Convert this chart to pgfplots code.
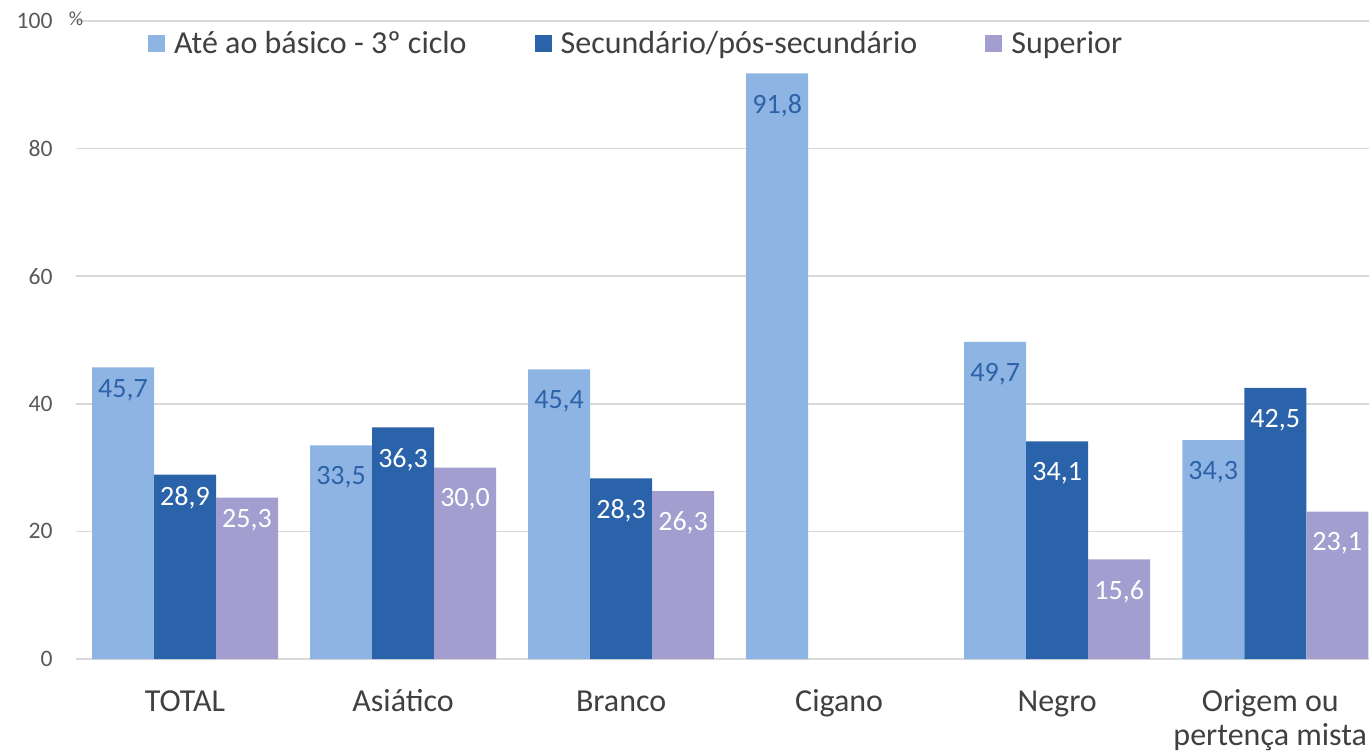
\documentclass[border=0pt]{standalone}
\usepackage{pgfplots}
\pgfplotsset{compat=1.18}
\usepackage{fontspec}
\setmainfont{Carlito}
\definecolor{c1}{HTML}{8EB4E3}
\definecolor{c2}{HTML}{2A63A9}
\definecolor{c3}{HTML}{A29FD0}
\definecolor{lab1}{HTML}{2C62A8}
\definecolor{gridc}{HTML}{D9D9D9}
\definecolor{tickc}{HTML}{595959}
\definecolor{cat}{HTML}{404040}
\pgfplotsset{sqlegend/.style={legend image code/.code={\fill[##1] (0pt,-4.25pt) rectangle (8.5pt,4.25pt);}}}
\begin{document}
\begin{tikzpicture}
\begin{axis}[
 scale only axis, width=646.5pt, height=319pt,
 xmin=-0.5, xmax=5.43, ymin=0, ymax=100,
 ybar=0pt, bar width=31pt,
 xtick={0,...,5},
 xticklabels={TOTAL,Asiático,Branco,Cigano,Negro,{\begin{tabular}[t]{@{}c@{}}Origem ou\\pertença mista\end{tabular}\kern5pt}},
 ytick={0,20,...,100},
 major tick length=0pt,
 axis x line*=bottom, axis y line*=left,
 x axis line style={draw=gridc, line width=0.75pt, -},
 y axis line style={draw=none},
 ymajorgrids, grid style={draw=gridc, line width=0.75pt},
 /pgf/number format/assume math mode=true,
 yticklabel style={font=\fontsize{11.8}{14}\selectfont, text=tickc, anchor=east, inner sep=0pt, xshift=-11.5pt},
 xticklabel style={font=\fontsize{16}{17}\selectfont, text=cat, anchor=base, inner sep=0pt, yshift=-26pt},
 legend columns=3,
 legend style={at={(rel axis cs:0.0557,0.964)}, anchor=west, draw=none, fill=none,
   inner sep=0pt, outer sep=0pt, font=\fontsize{16}{18}\selectfont, text=cat,
   nodes={inner sep=0pt},
   /tikz/every odd column/.append style={column sep=4.5pt},
   /tikz/every even column/.append style={column sep=34pt}},
 visualization depends on={rawx \as \rx},
 nodes near coords={\pgfmathprintnumber[fixed,fixed zerofill,precision=1,use comma]{\pgfplotspointmeta}},
 every node near coord/.append style={font=\fontsize{14}{16}\selectfont, anchor=center, yshift={-16pt+(\rx<0.5)*4.5pt}},
]
\addplot[fill=c1, draw=none, sqlegend, every node near coord/.append style={text=lab1}]
  coordinates {(0,45.7) (1,33.5) (2,45.4) (3,91.8) (4,49.7) (5,34.3)};
\addplot[fill=c2, draw=none, sqlegend, every node near coord/.append style={text=white}]
  coordinates {(0,28.9) (1,36.3) (2,28.3) (4,34.1) (5,42.5)};
\addplot[fill=c3, draw=none, sqlegend, every node near coord/.append style={text=white}]
  coordinates {(0,25.3) (1,30.0) (2,26.3) (4,15.6) (5,23.1)};
\legend{Até ao básico - 3º ciclo, Secundário/pós-secundário, Superior}
\end{axis}
\node[font=\fontsize{10}{12}\selectfont, text=tickc, inner sep=0pt] at (0pt,320pt) {\%};
\pgfresetboundingbox
\useasboundingbox (-38pt,-47.5pt) rectangle (646.5pt,329.5pt);
\end{tikzpicture}
\end{document}
